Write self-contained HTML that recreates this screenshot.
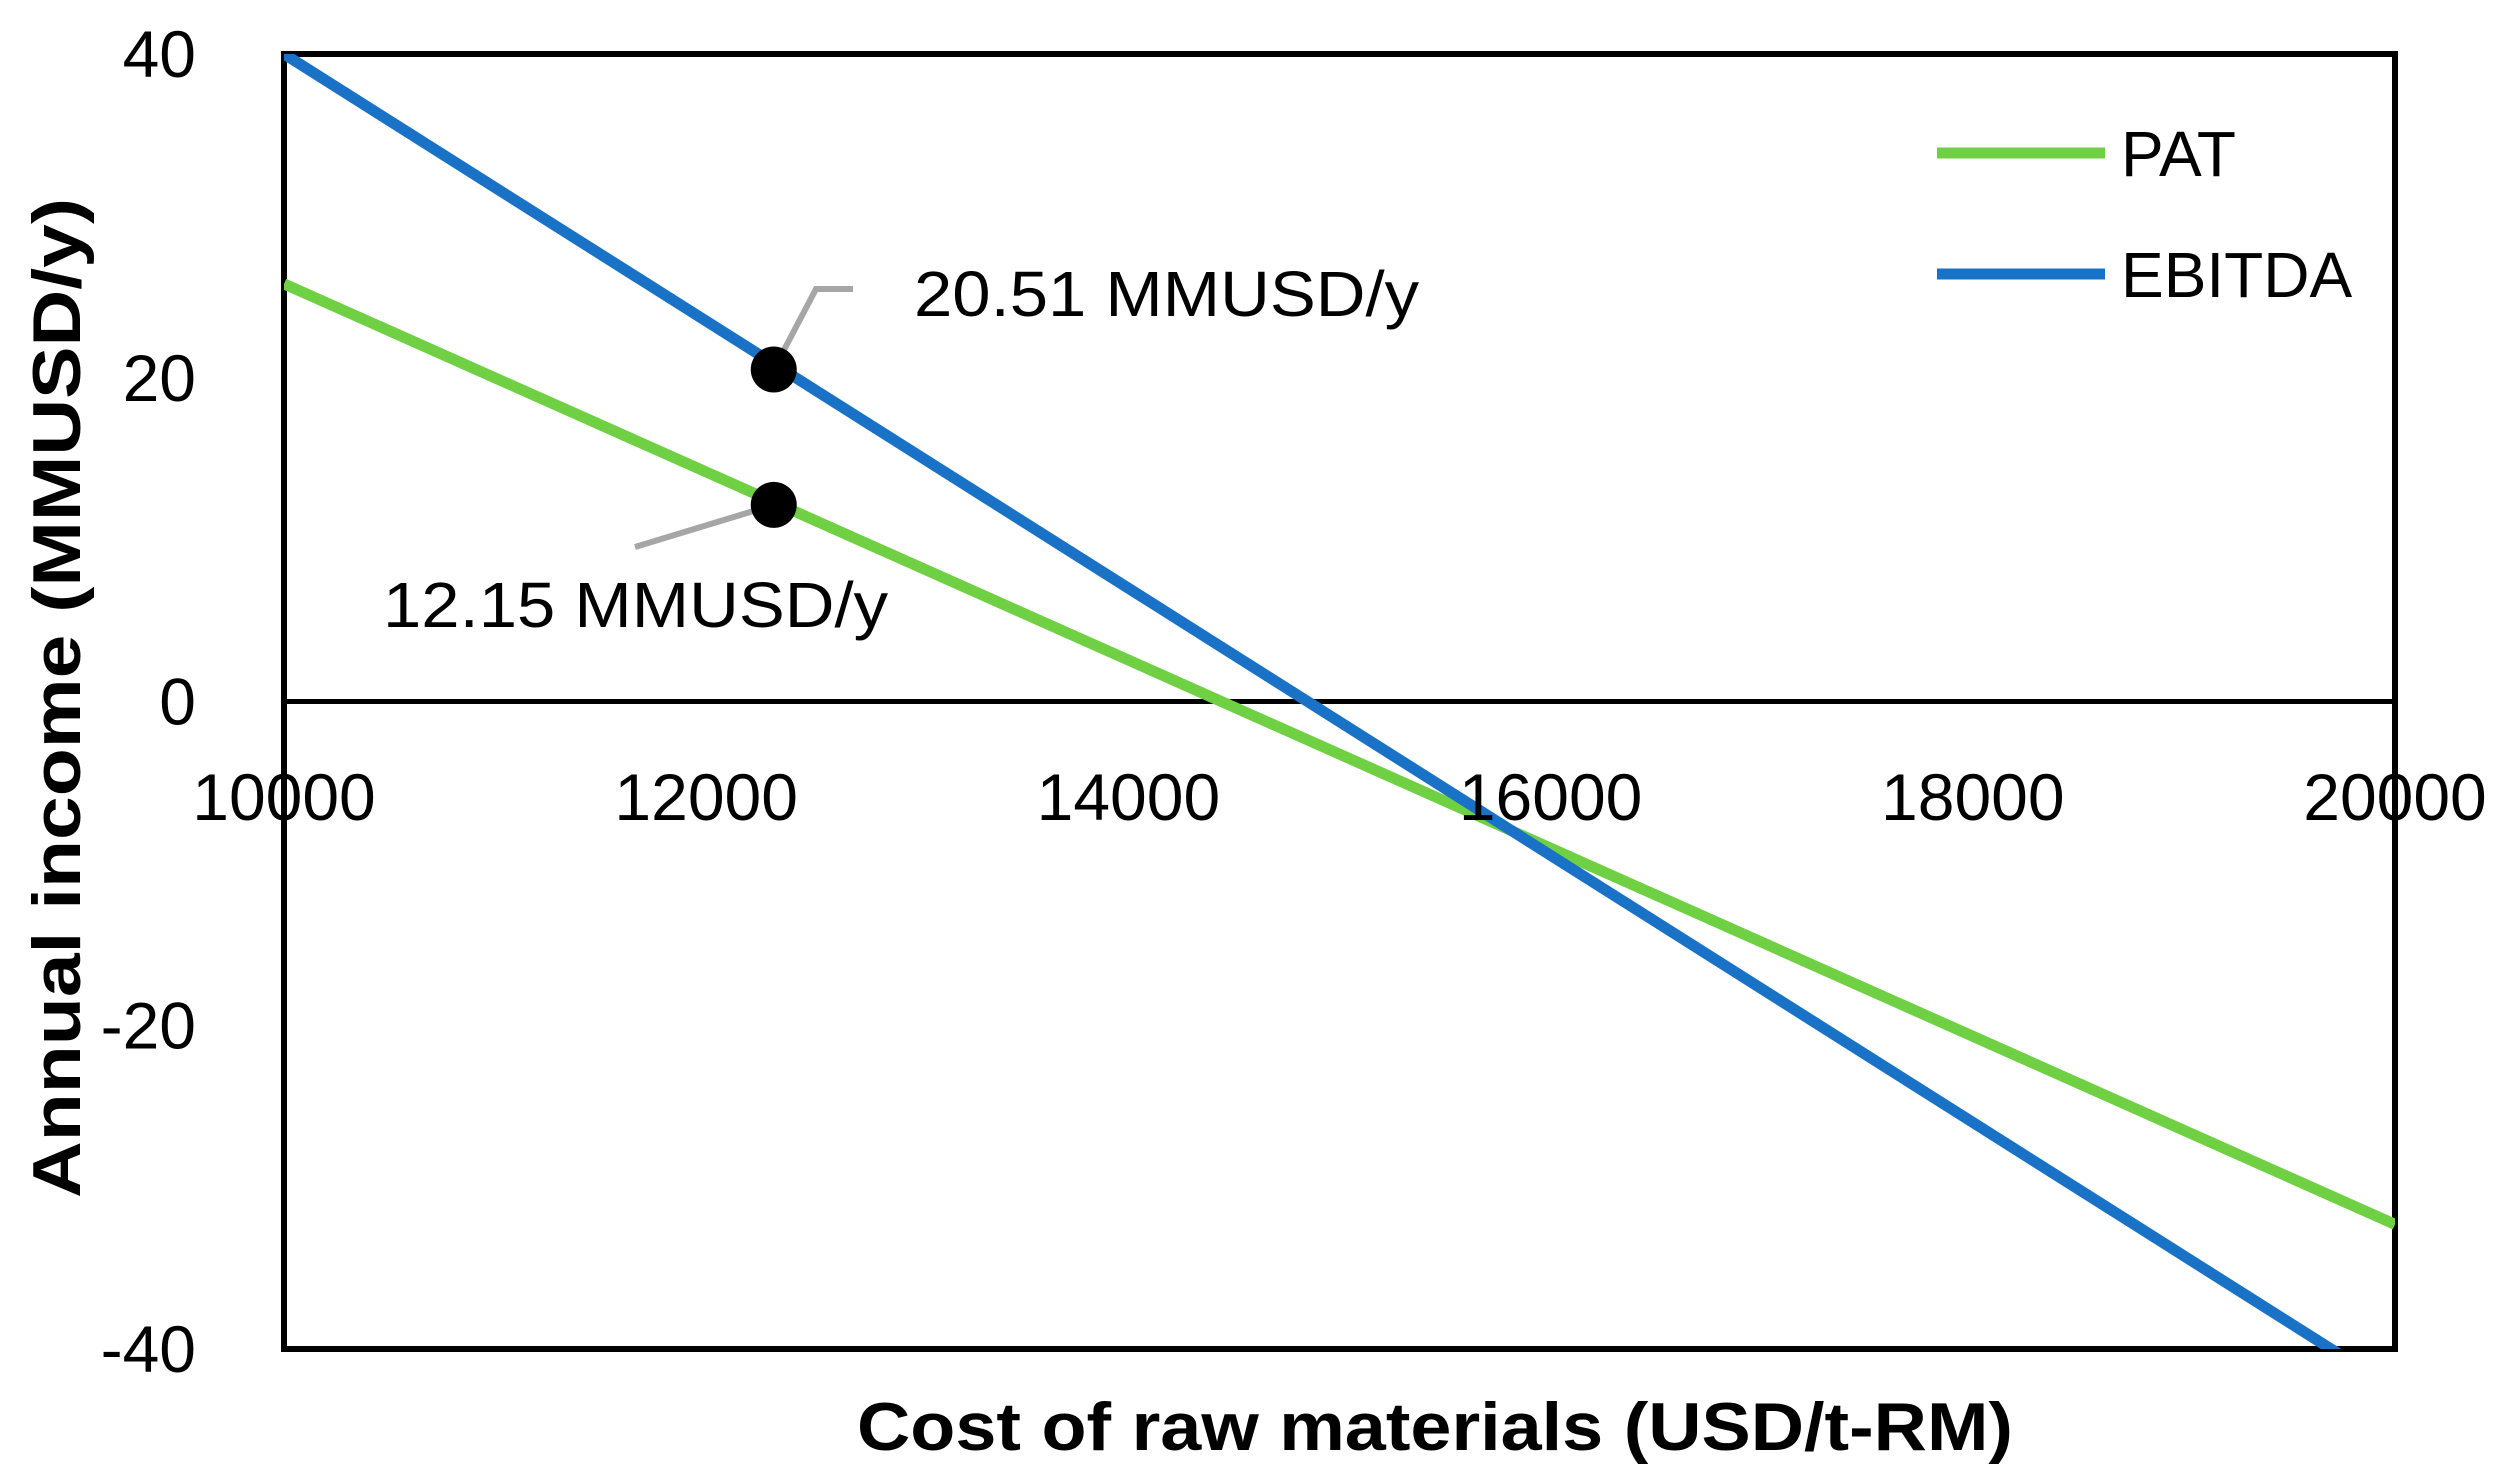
<!DOCTYPE html>
<html><head><meta charset="utf-8"><style>html,body{margin:0;padding:0;background:#fff;}svg{display:block;}</style></head>
<body>
<svg id="chart" width="2500" height="1484" viewBox="0 0 2500 1484" xmlns="http://www.w3.org/2000/svg" font-family="'Liberation Sans', sans-serif"></svg>
<script>
const xValues = [10000, 20000];
const patValues = [25.8, -32.3];
const ebitdaValues = [40, -42.5];
const xTicks = [10000, 12000, 14000, 16000, 18000, 20000];
const yTicks = [40, 20, 0, -20, -40];
const markerX = [12320, 12320];
const markerY = [20.51, 12.15];
const markerLabels = ["20.51 MMUSD/y", "12.15 MMUSD/y"];

const L=284,R=2395,T=54,B=1349;
const xs=v=>L+(v-10000)/10000*(R-L);
const ys=v=>T+(40-v)/80*(B-T);
const svg=document.getElementById('chart');
const NS='http://www.w3.org/2000/svg';
function mk(tag,attrs,parent){const e=document.createElementNS(NS,tag);for(const k in attrs)e.setAttribute(k,attrs[k]);(parent||svg).appendChild(e);return e;}

const defs=mk('defs',{});
const cp=mk('clipPath',{id:'clip'},defs);
mk('rect',{x:L,y:T,width:R-L,height:B-T},cp);

const frame=mk('rect',{x:L,y:T,width:R-L,height:B-T,fill:'none',stroke:'#000','stroke-width':6});


const zl=mk('line',{x1:L,x2:R,y1:ys(0),y2:ys(0),stroke:'#000','stroke-width':5});



function series(vals,color,name){
  const p=mk('polyline',{points:vals.map((v,i)=>xs(xValues[i])+','+ys(v)).join(' '),fill:'none',stroke:color,'stroke-width':11,'clip-path':'url(#clip)'});
  
  
}
series(patValues,'#6fd043','pat-line');
series(ebitdaValues,'#1a72c6','ebitda-line');

xTicks.forEach(t=>{
  const e=mk('text',{x:xs(t),y:820,'font-size':66,'text-anchor':'middle',fill:'#000'});
  e.textContent=t;
  
  
});
yTicks.forEach(t=>{
  const e=mk('text',{x:196,y:ys(t)+23,'font-size':66,'text-anchor':'end',fill:'#000'});
  e.textContent=t;
  
  
});

const leaders=[[[xs(markerX[0]),ys(markerY[0])],[816,289],[853,289]],[[xs(markerX[1]),ys(markerY[1])],[635,547]]];
leaders.forEach(pts=>{
  const l=mk('polyline',{points:pts.map(p=>p.join(',')).join(' '),fill:'none',stroke:'#a6a6a6','stroke-width':6});
  
  
});
markerX.forEach((mx,i)=>{
  const c=mk('circle',{cx:xs(mx),cy:ys(markerY[i]),r:23,fill:'#000'});
  
  
});
const lblPos=[[914,316],[383,627]];
markerLabels.forEach((s,i)=>{
  const e=mk('text',{x:lblPos[i][0],y:lblPos[i][1],'font-size':64,fill:'#000',textLength:505,lengthAdjust:'spacingAndGlyphs'});
  e.textContent=s;
  
  
});

[['PAT','#6fd043',153],['EBITDA','#1a72c6',274]].forEach(([n,c,y])=>{
  const g=mk('g',{});
  
  
  mk('line',{x1:1937,x2:2105,y1:y,y2:y,stroke:c,'stroke-width':11},g);
  const t=mk('text',{x:2121,y:y+23,'font-size':64,fill:'#000'},g);
  t.textContent=n;
});

const xt=mk('text',{x:1435,y:1450,'font-size':68,'font-weight':'bold','text-anchor':'middle',textLength:1156,lengthAdjust:'spacingAndGlyphs'});
xt.textContent='Cost of raw materials (USD/t-RM)';


const yt=mk('text',{x:0,y:0,'font-size':68,'font-weight':'bold','text-anchor':'middle',textLength:1000,lengthAdjust:'spacingAndGlyphs',transform:'translate(80,698) rotate(-90)'});
yt.textContent='Annual income (MMUSD/y)';


</script>
</body></html>
